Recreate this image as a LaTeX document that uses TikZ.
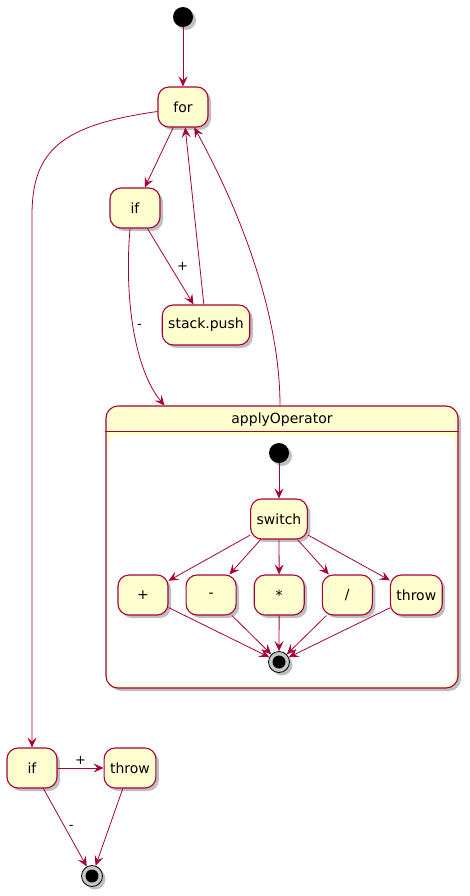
\documentclass[tikz,border=0pt]{standalone}
\usepackage{fontspec}
\setmainfont{DejaVu Sans}
\usetikzlibrary{positioning,graphs,quotes,shadows,arrows.meta}
\definecolor{umlfill}{HTML}{FEFECE}
\definecolor{umlline}{HTML}{A80036}

\begin{document}
\begin{tikzpicture}[x=1pt, y=-1pt, >={Stealth[length=10pt,width=9pt,inset=4pt]},
  font=\fontsize{14}{16}\selectfont,
  umlshadow/.style={drop shadow={shadow xshift=3pt, shadow yshift=-3pt, opacity=.25, fill=black}},
  umlstate/.style={draw=umlline, fill=umlfill, line width=1.1pt, rounded corners=11pt, minimum width=50pt, minimum height=40pt, inner xsep=6pt, umlshadow},
  init/.style={circle, fill=black, minimum size=20pt, inner sep=0pt, umlshadow},
  final/.style={circle, draw=black, fill=gray!45, line width=.8pt, minimum size=21pt, inner sep=0pt, umlshadow, path picture={\fill[black] (path picture bounding box.center) circle (6.5pt);}},
  umledge/.style={draw=umlline, line width=.8pt},
  every edge quotes/.style={font=\fontsize{13}{15}\selectfont, text=black}]
\useasboundingbox (0,0) rectangle (469,896);

\node[umlstate, minimum width=352pt, minimum height=282pt, rounded corners=12pt] (apply) at (282,547) {};
\fill[white, rounded corners=9pt] ([shift={(3pt,-30pt)}]apply.north west) rectangle ([shift={(-3pt,3pt)}]apply.south east);
\draw[umlline, line width=1.1pt] ([yshift=-26pt]apply.north west) -- ([yshift=-26pt]apply.north east);
\node[below=4pt of apply.north]              (applytitle) {applyOperator};

\node[init]                                  (sstart) at (183,17)  {};
\node[umlstate]                              (for)    at (183,107) {for};
\node[umlstate]                              (if1)    at (135,208) {if};
\node[umlstate]                              (push)   at (206,325) {stack.push};
\node[umlstate]                              (if2)    at (32,768)  {if};
\node[umlstate, right=46pt of if2]           (throw)  {throw};
\node[final]                                 (end)    at (92,876)  {};

\node[init]                                  (istart) at (279,453) {};
\node[umlstate]                              (switch) at (279,519) {switch};
\node[umlstate]                              (plus)   at (143,595) {+};
\node[umlstate, right=17pt of plus]          (minus)  {-};
\node[umlstate, right=17pt of minus]         (times)  {*};
\node[umlstate, right=17pt of times]         (divide) {/};
\node[umlstate, right=17pt of divide]        (ithrow) {throw};
\node[final]                                 (iend)   at (279,662) {};

\graph[edges={umledge}]{
	(sstart) -> (for) -> (if1) ->["+" {right, xshift=3pt}] (push) -> (for);
	(if2) ->["+" above] (throw) -> (end);
	(if2) ->["-" right] (end);
	(istart) -> (switch) -> {(plus), (minus), (times), (divide), (ithrow)} -> (iend);
};
\draw[umledge, ->] (for.190) .. controls (62,125) and (32,150) .. (32,215) -- (if2);
\draw[umledge, ->] ([xshift=-5pt]if1.south) .. controls (124,300) and (135,370) .. node[pos=.48, right, font=\fontsize{13}{15}\selectfont] {-} ([xshift=59pt]apply.north west);
\draw[umledge, ->] ([xshift=-2pt]apply.north) .. controls (280,320) and (245,220) .. (for);
\end{tikzpicture}
\end{document}
